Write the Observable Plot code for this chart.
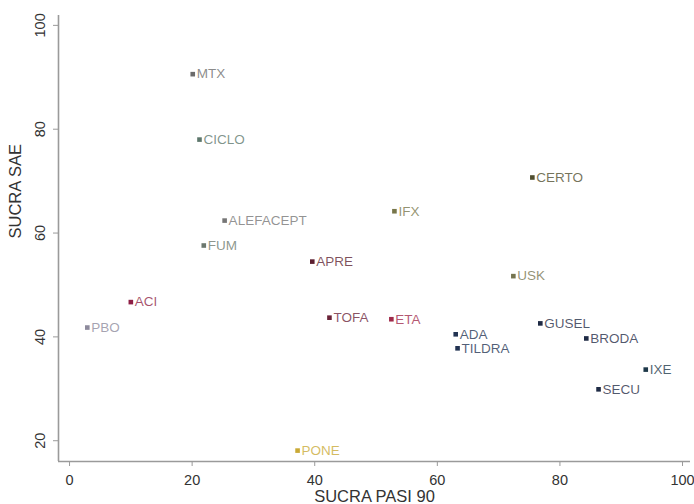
<!DOCTYPE html>
<html>
<head>
<meta charset="utf-8">
<script src="https://cdn.jsdelivr.net/npm/d3@7"></script>
<script src="https://cdn.jsdelivr.net/npm/@observablehq/plot@0.6"></script>
<style>
  html, body { margin: 0; padding: 0; background: #fff; }
  #chart { width: 694px; height: 504px; overflow: hidden; }
</style>
</head>
<body>
<div id="chart"></div>
<script>
// Treatments with their SUCRA for PASI 90 (efficacy) and for serious adverse events
const drugs = ["MTX", "CICLO", "ALEFACEPT", "FUM", "APRE", "ACI", "PBO", "TOFA", "ETA", "PONE",
               "IFX", "CERTO", "USK", "GUSEL", "ADA", "TILDRA", "BRODA", "IXE", "SECU"];
const sucraPasi90 = [20.1, 21.2, 25.3, 21.9, 39.6, 10.0, 2.9, 42.4, 52.5, 37.2,
                     53.0, 75.5, 72.4, 76.8, 63.0, 63.3, 84.3, 94.0, 86.3];
const sucraSae = [90.6, 78.0, 62.4, 57.6, 54.5, 46.7, 41.8, 43.7, 43.4, 18.1,
                  64.2, 70.7, 51.7, 42.6, 40.5, 37.8, 39.7, 33.7, 29.9];
const drugColors = ["#6b6b6b", "#5d776c", "#767676", "#6c786e", "#5c1f30", "#8e1f45", "#8d8a9c", "#6a2338", "#a02a4a", "#c9a935",
                    "#77764a", "#4f4d2e", "#75744f", "#1f2b45", "#223352", "#223352", "#1f2b45", "#1d3849", "#1f2b45"];

const xTicks = [0, 20, 40, 60, 80, 100];
const yTicks = [20, 40, 60, 80, 100];
const xTitle = "SUCRA PASI 90";
const yTitle = "SUCRA SAE";

const rows = drugs.map((d, i) => ({drug: d, pasi: sucraPasi90[i], sae: sucraSae[i], color: drugColors[i]}));

const font = "'Liberation Sans', Arial, sans-serif";
const axisColor = "#9a9a9a";
const xDomain = [-1.8, 101.3];
const yDomain = [16, 101.9];

const chart = Plot.plot({
  width: 694,
  height: 504,
  marginLeft: 58,
  marginRight: 4,
  marginTop: 15,
  marginBottom: 43,
  style: {fontFamily: font, background: "#fff", color: "#333"},
  x: {domain: xDomain, axis: null},
  y: {domain: yDomain, axis: null},
  marks: [
    Plot.ruleX([xDomain[0]], {stroke: axisColor, strokeWidth: 1.6}),
    Plot.ruleY([yDomain[0]], {stroke: axisColor, strokeWidth: 1.6}),
    Plot.axisX({ticks: xTicks, tickSize: 5, tickPadding: 8, stroke: axisColor, fill: "#333", fontSize: 14.5, label: null}),
    Plot.axisY({ticks: yTicks, tickSize: 5, tickPadding: 9, tickRotate: -90, stroke: axisColor, fill: "#333", fontSize: 14.5, label: null}),
    Plot.dot(rows, {x: "pasi", y: "sae", symbol: "square", r: 2.6, fill: "color", stroke: null}),
    Plot.text(rows, {x: "pasi", y: "sae", text: "drug", fill: "color", fillOpacity: 0.78, textAnchor: "start", dx: 4, fontSize: 13.5}),
    Plot.text([xTitle], {frameAnchor: "bottom", dy: 40, fontSize: 16.5, fill: "#333"}),
    Plot.text([yTitle], {frameAnchor: "left", dx: -43, rotate: -90, fontSize: 16.5, fill: "#333"})
  ]
});

document.getElementById("chart").appendChild(chart);
</script>
</body>
</html>
